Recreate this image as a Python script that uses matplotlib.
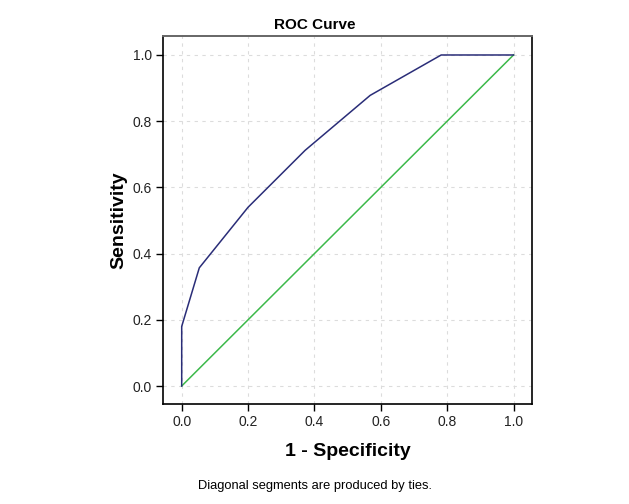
import matplotlib
matplotlib.use("Agg")
import matplotlib.pyplot as plt

# ROC curve points
fpr = [0.0, 0.0, 0.053, 0.2, 0.372, 0.568, 0.782, 1.0]
tpr = [0.0, 0.18, 0.357, 0.54, 0.712, 0.878, 1.0, 1.0]
ref_x = [0.0, 1.0]
ref_y = [0.0, 1.0]
ticks = [0.0, 0.2, 0.4, 0.6, 0.8, 1.0]
tick_labels = ["0.0", "0.2", "0.4", "0.6", "0.8", "1.0"]

plt.rcParams['font.family'] = ['Liberation Sans', 'DejaVu Sans']

fig = plt.figure(figsize=(6.29, 5.04), dpi=100)
ax = fig.add_axes([0.2596, 0.1978, 0.5857, 0.7308])

ax.plot(ref_x, ref_y, color='#3cb94a', lw=1.1, zorder=3)
ax.plot(fpr, tpr, color='#2a2d78', lw=1.1, zorder=4)

ax.set_xlim(-0.0555, 1.0548)
ax.set_ylim(-0.0553, 1.0574)
ax.set_xticks(ticks)
ax.set_xticklabels(tick_labels)
ax.set_yticks(ticks)
ax.set_yticklabels(tick_labels)
ax.tick_params(direction='out', length=5, width=1, labelsize=10, colors='black',
               top=False, right=False, pad=3)
ax.tick_params(labelcolor='#222222')
ax.grid(True, linestyle=(0, (3, 4)), color='#dcdcdc', lw=0.8)
ax.set_axisbelow(True)

for s in ['left', 'bottom', 'right']:
    ax.spines[s].set_color('black')
    ax.spines[s].set_linewidth(1.2)
ax.spines['top'].set_color('#666666')
ax.spines['top'].set_linewidth(1.4)

ax.set_xlabel("1 - Specificity", fontsize=14, fontweight='bold', labelpad=10)
ax.set_ylabel("Sensitivity", fontsize=14, fontweight='bold', labelpad=4)

fig.text(0.5, 1 - 25 / 504, "ROC Curve", ha='center', va='center',
         fontsize=11, fontweight='bold')
fig.text(0.5, 1 - 486 / 504, "Diagonal segments are produced by ties.",
         ha='center', va='center', fontsize=9.3)

fig.savefig("out.png", dpi=100)
